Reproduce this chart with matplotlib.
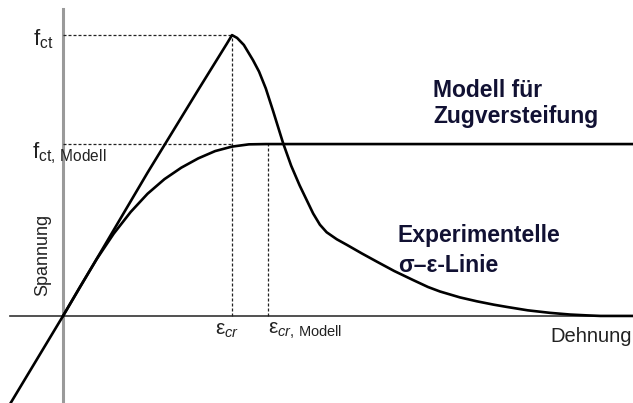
import matplotlib.pyplot as plt

plt.rcParams['font.family'] = ['Liberation Sans', 'DejaVu Sans']
plt.rcParams['mathtext.fontset'] = 'custom'
plt.rcParams['mathtext.rm'] = 'Liberation Sans'
plt.rcParams['mathtext.it'] = 'Liberation Sans:italic'
plt.rcParams['mathtext.bf'] = 'Liberation Sans:bold'

# Dehnung bezogen auf eps_cr, Spannung bezogen auf f_ct
eps_cr = 1.0
eps_cr_modell = 1.213
f_ct = 1.0
f_ct_modell = 0.612

# Experimentelle Spannungs-Dehnungs-Linie
eps_exp = [-0.34, 0.0, 0.5, 0.8, 0.97, 1.0, 1.03, 1.07, 1.124, 1.16, 1.2,
           1.243, 1.302, 1.35, 1.4, 1.444, 1.48, 1.52, 1.56, 1.62, 1.68,
           1.77, 1.858, 1.96, 2.071, 2.16, 2.231, 2.349, 2.45, 2.55, 2.627,
           2.75, 2.882, 3.0, 3.1, 3.18, 3.373]
sig_exp = [-0.34, 0.0, 0.51, 0.805, 0.97, 1.0, 0.99, 0.965, 0.911, 0.87,
           0.81, 0.73, 0.616, 0.535, 0.465, 0.41, 0.365, 0.325, 0.298,
           0.273, 0.253, 0.222, 0.193, 0.16, 0.128, 0.103, 0.087, 0.066,
           0.052, 0.04, 0.032, 0.02, 0.011, 0.005, 0.002, 0.0, 0.0]

# Modell für Zugversteifung
eps_mod = [0.0, 0.1, 0.2, 0.3, 0.4, 0.5, 0.6, 0.7, 0.8, 0.9, 1.0, 1.1,
           1.2, 3.373]
sig_mod = [0.0, 0.103, 0.203, 0.293, 0.37, 0.435, 0.487, 0.528, 0.561,
           0.587, 0.603, 0.611, 0.612, 0.612]

fig = plt.figure(figsize=(6.33, 4.03), dpi=100)
ax = fig.add_axes([0, 0, 1, 1])
ax.set_xlim(-0.373, 3.373)
ax.set_ylim(-0.310, 1.125)
ax.axis('off')

# Achsen
ax.plot([0, 0], [-0.31, 1.093], color='#9a9a9a', lw=2.2, zorder=1)
ax.plot([-0.314, 3.373], [0, 0], color='#333333', lw=1.2, zorder=1)

# Hilfslinien
dash = dict(color='#222222', lw=0.9, linestyle=(0, (2.4, 1.6)), zorder=2)
ax.plot([0, eps_cr], [f_ct, f_ct], **dash)
ax.plot([eps_cr, eps_cr], [0, f_ct], **dash)
ax.plot([0, eps_cr], [f_ct_modell, f_ct_modell], **dash)
ax.plot([eps_cr_modell, eps_cr_modell], [0, f_ct_modell], **dash)

# Kurven
ax.plot(eps_exp, sig_exp, color='black', lw=1.9, solid_joinstyle='round', zorder=3)
ax.plot(eps_mod, sig_mod, color='black', lw=1.9, solid_joinstyle='round', zorder=3)

# Beschriftungen
lbl = '#222222'
ax.text(-0.178, 0.964, r'$\mathrm{f}_{\mathrm{ct}}$', fontsize=16, color=lbl,
        ha='left', va='baseline')
ax.text(-0.183, 0.562, r'$\mathrm{f}_{\mathrm{ct,\,Modell}}$', fontsize=16,
        color=lbl, ha='left', va='baseline')
ax.text(-0.118, 0.217, 'Spannung', fontsize=13, color=lbl, rotation=90,
        ha='center', va='center')
ax.text(0.899, -0.068, r'$\mathrm{ε}_{\mathit{cr}}$', fontsize=15, color=lbl,
        ha='left', va='baseline')
ax.text(1.213, -0.064, r'$\mathrm{ε}_{\mathit{cr},\,\mathrm{Modell}}$',
        fontsize=15, color=lbl, ha='left', va='baseline')
ax.text(3.367, -0.093, 'Dehnung', fontsize=14.5, color=lbl,
        ha='right', va='baseline')

blau = '#111133'
ax.text(2.189, 0.779, 'Modell für', fontsize=16.5, fontweight='bold',
        color=blau, ha='left', va='baseline')
ax.text(2.189, 0.687, 'Zugversteifung', fontsize=16.5, fontweight='bold',
        color=blau, ha='left', va='baseline')
ax.text(1.982, 0.263, 'Experimentelle', fontsize=16.5, fontweight='bold',
        color=blau, ha='left', va='baseline')
ax.text(1.982, 0.157, 'σ–ε-Linie', fontsize=16.5, fontweight='bold',
        color=blau, ha='left', va='baseline')

fig.savefig('out.png', dpi=100)
plt.close(fig)
